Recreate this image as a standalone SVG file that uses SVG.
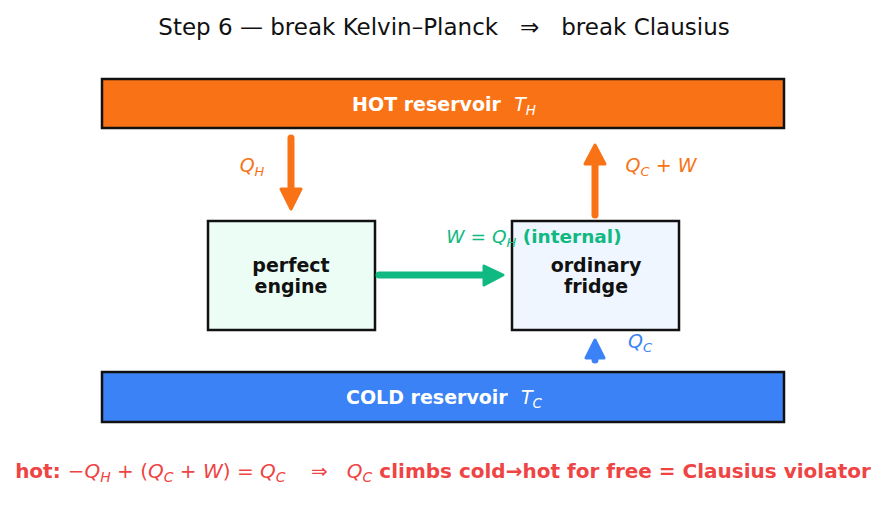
<svg xmlns="http://www.w3.org/2000/svg" width="886" height="512" viewBox="0 0 886 512">
<style>
text{font-family:"DejaVu Sans","Liberation Sans",sans-serif;white-space:pre}
.box{stroke:#111;stroke-width:2.5}
.lbl{font-size:19px;font-weight:bold;fill:#111;text-anchor:middle}
.res{font-size:19px;font-weight:bold;fill:#fff;text-anchor:middle}
.it{font-style:italic;font-weight:normal}
.rm{font-style:normal;font-weight:normal}
.shaft{stroke-width:7;stroke-linecap:round;fill:none}
.head{stroke-width:3;stroke-linejoin:round}
</style>
<rect width="886" height="512" fill="#fff"/>
<text x="444" y="35" font-size="23" fill="#111" text-anchor="middle" xml:space="preserve">Step 6 — break Kelvin–Planck   ⇒   break Clausius</text>

<g id="hot">
<rect class="box" x="102" y="79" width="682" height="49" fill="#f97316"/>
<text class="res" x="444" y="111" xml:space="preserve">HOT reservoir  <tspan class="it">T</tspan><tspan class="it" font-size="13.5" dy="4">H</tspan></text>
</g>
<g id="cold">
<rect class="box" x="102" y="372" width="682" height="50" fill="#3b82f6"/>
<text class="res" x="444" y="404" xml:space="preserve">COLD reservoir  <tspan class="it">T</tspan><tspan class="it" font-size="13.5" dy="4">C</tspan></text>
</g>
<g id="engine">
<rect class="box" x="208" y="221" width="167" height="109" fill="#ecfdf5"/>
<text class="lbl" x="291" y="272">perfect</text>
<text class="lbl" x="291" y="293">engine</text>
</g>
<g id="fridge">
<rect class="box" x="512" y="221" width="167" height="109" fill="#eff6ff"/>
<text class="lbl" x="596" y="272">ordinary</text>
<text class="lbl" x="596" y="293">fridge</text>
</g>

<g id="connectors">
<line class="shaft" x1="291" y1="138" x2="291" y2="192" stroke="#f97316"/>
<polygon class="head" points="281,189 301,189 291,209" fill="#f97316" stroke="#f97316"/>
<line class="shaft" x1="595" y1="215" x2="595" y2="162" stroke="#f97316"/>
<polygon class="head" points="585,164 605,164 595,145" fill="#f97316" stroke="#f97316"/>
<line class="shaft" x1="379" y1="275" x2="486" y2="275" stroke="#10b981"/>
<polygon class="head" points="484,266 484,285 503,275" fill="#10b981" stroke="#10b981"/>
<line class="shaft" x1="595" y1="358" x2="595" y2="360" stroke="#3b82f6"/>
<polygon class="head" points="586,358 604,358 595,340" fill="#3b82f6" stroke="#3b82f6"/>
</g>

<text x="252" y="172" font-size="19" fill="#f97316" text-anchor="middle" class="it">Q<tspan font-size="13" dy="4">H</tspan></text>
<text x="661" y="172" font-size="19" fill="#f97316" text-anchor="middle" xml:space="preserve"><tspan class="it">Q</tspan><tspan class="it" font-size="13" dy="4">C</tspan><tspan dy="-4"> + </tspan><tspan class="it">W</tspan></text>
<text x="640" y="348" font-size="19" fill="#3b82f6" text-anchor="middle" class="it">Q<tspan font-size="13" dy="4">C</tspan></text>
<text x="534" y="243" font-size="18.5" fill="#10b981" text-anchor="middle" xml:space="preserve"><tspan class="it">W</tspan><tspan> = </tspan><tspan class="it">Q</tspan><tspan class="it" font-size="13" dy="4">H</tspan><tspan dy="-4" font-weight="bold"> (internal)</tspan></text>

<text x="443" y="478" font-size="20" fill="#ef4444" text-anchor="middle" font-weight="bold" xml:space="preserve">hot: <tspan class="rm">−</tspan><tspan class="it">Q</tspan><tspan class="it" font-size="14" dy="4">H</tspan><tspan class="rm" dy="-4"> + (</tspan><tspan class="it">Q</tspan><tspan class="it" font-size="14" dy="4">C</tspan><tspan class="rm" dy="-4"> + </tspan><tspan class="it">W</tspan><tspan class="rm">) = </tspan><tspan class="it">Q</tspan><tspan class="it" font-size="14" dy="4">C</tspan><tspan class="rm" dy="-4">    ⇒   </tspan><tspan class="it">Q</tspan><tspan class="it" font-size="14" dy="4">C</tspan><tspan dy="-4"> climbs cold→hot for free = Clausius violator</tspan></text>
</svg>
